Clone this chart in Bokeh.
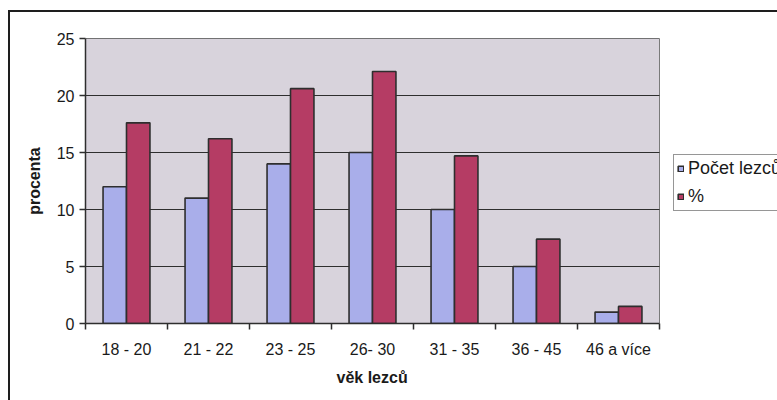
import numpy as np
from bokeh.plotting import figure
from bokeh.models import (ColumnDataSource, Range1d, FixedTicker, Legend,
                          LegendItem, Title)
from bokeh.transform import dodge
from bokeh.embed import file_html
from bokeh.resources import INLINE

# Age groups of climbers, their counts and the share of each group (%)
age_groups = ["18 - 20", "21 - 22", "23 - 25", "26- 30", "31 - 35", "36 - 45", "46 a více"]
climbers = [12, 11, 14, 15, 10, 5, 1]
percent = [17.6, 16.2, 20.6, 22.1, 14.7, 7.4, 1.5]
y_ticks = [0, 5, 10, 15, 20, 25]
series_names = ["Počet lezců", "%"]
x_title = "věk lezců"
y_title = "procenta"

BLUE = "#a9aeea"
RED = "#b53c64"
EDGE = "#2e2e2e"
PLOT_BG = "#d8d3dc"
FONT = "Liberation Sans"

n = len(age_groups)
centers = np.arange(n) + 0.5
src = ColumnDataSource(dict(x=centers, count=climbers, pct=percent))

# The frame runs to the right canvas edge; the shaded plot area covers the
# n groups and the space to its right carries the legend.
W, H = 777, 400
left_px, top_px, bottom_px, area_right_px = 85, 38, 77, 659
x_end = n * (W - left_px) / (area_right_px - left_px)

p = figure(width=W, height=H, output_backend="svg", toolbar_location=None,
           x_range=Range1d(0, x_end), y_range=Range1d(0, y_ticks[-1]),
           min_border_left=left_px, min_border_right=0,
           min_border_top=top_px, min_border_bottom=bottom_px)
p.background_fill_color = "white"
p.outline_line_color = None
# transparent canvas border so the page-level chart frame lines show through
p.border_fill_alpha = 0
p.styles = {
    "background": (
        "linear-gradient(#1e1e1e, #1e1e1e) 8px 10px / 2px 400px no-repeat, "
        "linear-gradient(#1e1e1e, #1e1e1e) 8px 10px / 800px 2px no-repeat, "
        "white"
    )
}

# shaded plot area with its grey border
p.quad(left=0, right=n, bottom=y_ticks[0], top=y_ticks[-1],
       fill_color=PLOT_BG, line_color="#7a7a7a", line_width=1, level="underlay")
# horizontal grid lines across the plot area
grid_src = ColumnDataSource(dict(y=y_ticks[1:]))
p.segment(x0=0, x1=n, y0="y", y1="y", source=grid_src,
          line_color=EDGE, line_width=1.2, level="underlay")

bar_w = 0.286
r_count = p.vbar(x=dodge("x", -bar_w / 2), top="count", width=bar_w, source=src,
                 fill_color=BLUE, line_color=EDGE, line_width=1.6)
r_pct = p.vbar(x=dodge("x", bar_w / 2), top="pct", width=bar_w, source=src,
               fill_color=RED, line_color=EDGE, line_width=1.6)

# x axis: labels at group centres, tick marks at group boundaries
xax = p.xaxis[0]
xax.bounds = (0, n)
xax.ticker = FixedTicker(ticks=[float(c) for c in centers],
                         minor_ticks=list(range(n + 1)))
xax.major_label_overrides = {float(c): lab for c, lab in zip(centers, age_groups)}
xax.major_tick_out = 0
xax.major_tick_in = 0
xax.minor_tick_out = 6
xax.minor_tick_in = 0
xax.minor_tick_line_color = EDGE
xax.minor_tick_line_width = 1.5
xax.major_label_standoff = 11

yax = p.yaxis[0]
yax.ticker = FixedTicker(ticks=y_ticks)
yax.major_tick_out = 6
yax.major_tick_in = 0
yax.minor_tick_line_color = None
yax.major_tick_line_color = EDGE
yax.major_tick_line_width = 1.5
yax.major_label_standoff = 5
yax.axis_label = y_title
yax.axis_label_standoff = 11

for ax in (xax, yax):
    ax.axis_line_color = EDGE
    ax.axis_line_width = 1.5
    ax.major_label_text_font = FONT
    ax.major_label_text_font_size = "16px"
    ax.major_label_text_color = "#1a1a1a"
    ax.axis_label_text_font = FONT
    ax.axis_label_text_font_size = "16px"
    ax.axis_label_text_font_style = "bold"
    ax.axis_label_text_color = "#1a1a1a"

p.xgrid.visible = False
p.ygrid.visible = False

# x axis title, centred under the shaded plot area
p.add_layout(Title(text=x_title, align="left", offset=251,
                   text_font=FONT, text_font_size="16px",
                   text_font_style="bold", text_color="#1a1a1a",
                   standoff=12), "below")

legend = Legend(items=[LegendItem(label=series_names[0], renderers=[r_count]),
                       LegendItem(label=series_names[1], renderers=[r_pct])],
                location=(588, 112), orientation="vertical",
                label_text_font=FONT, label_text_font_size="18px",
                label_text_color="#1a1a1a",
                glyph_width=7, glyph_height=7, label_standoff=4,
                label_height=19, padding=3, spacing=7, margin=0,
                border_line_color=EDGE, border_line_width=1.2,
                background_fill_color="white", background_fill_alpha=1.0)
p.add_layout(legend)

open("out.html", "w").write(file_html(p, INLINE))
